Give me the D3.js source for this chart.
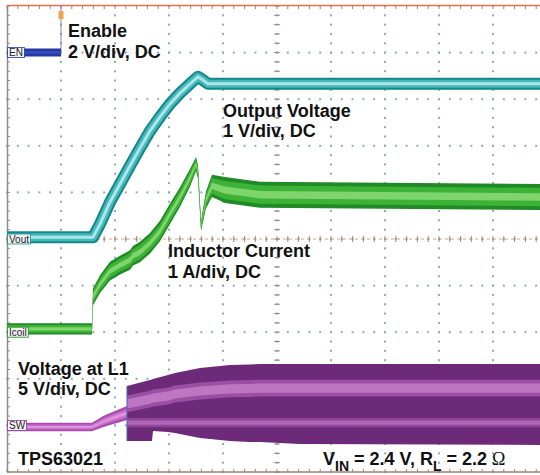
<!DOCTYPE html>
<html><head><meta charset="utf-8">
<script src="https://cdn.jsdelivr.net/npm/d3@7"></script>
<style>html,body{margin:0;padding:0;background:#fff;}svg{display:block}</style>
</head><body>
<svg id="c" width="540" height="475"></svg>
<script>
// ---------- data (time in divisions, values in channel units) ----------
const majorX = d3.range(0, 11);          // time divisions
const majorY = d3.range(-5, 6);          // vertical divisions
const minorStep = 0.2;

// Enable (2 V/div, ref +4 div)
const enTime = [0, 1.0, 1.0];
const enVolt = [0, 0, 3.6];

// Output voltage (1 V/div, ref 0 div)
const voutTime = [0, 1.593, 1.722, 1.907, 2.093, 2.278, 2.463, 2.648, 2.833, 3.019, 3.204, 3.389, 3.537, 3.630, 3.722, 10];
const voutVolt = [0.04, 0.04, 0.32, 0.79, 1.18, 1.57, 1.95, 2.32, 2.62, 2.90, 3.13, 3.33, 3.48, 3.41, 3.33, 3.33];

// Inductor current (1 A/div, ref -2 div)
const coilTime = [0, 1.574, 1.593, 1.722, 1.907, 2.093, 2.278, 2.333, 2.463, 2.648, 2.833, 3.019, 3.204, 3.389, 3.500, 3.537, 3.593, 3.685, 3.796, 4.037, 4.685, 10];
const coilAmp  = [0.07, 0.07, 0.76, 1.03, 1.31, 1.44, 1.55, 1.64, 1.72, 1.91, 2.17, 2.54, 2.90, 3.31, 3.61, 3.44, 2.28, 2.84, 3.14, 3.05, 2.95, 2.90];
const coilHalf = [0.12, 0.12, 0.18, 0.19, 0.20, 0.20, 0.21, 0.21, 0.22, 0.22, 0.22, 0.22, 0.21, 0.19, 0.15, 0.14, 0.11, 0.18, 0.24, 0.28, 0.28, 0.28];

// Voltage at L1 (5 V/div, ref -4 div)
const swPreTime = [0, 1.574, 1.800, 2.222];
const swPreVolt = [-0.17, -0.17, 0.45, 1.33];
const swPreHalf = [0.45, 0.45, 0.60, 0.75];
const swTime   = [2.222, 2.648, 2.685, 2.704, 2.981, 3.111, 3.574, 4.130, 4.500, 4.685, 5.426, 10];
const swTop    = [4.23, 4.87, 4.93, 4.98, 5.41, 5.62, 6.16, 6.48, 6.54, 6.59, 6.59, 6.59];
const swBottom = [-1.67, -1.67, -1.67, -0.60, -0.71, -0.82, -1.35, -1.67, -1.78, -1.78, -2.00, -2.10];
const swHigh   = [2.30, 2.83, 2.89, 2.94, 3.15, 3.37, 3.69, 3.91, 3.96, 4.01, 4.01, 4.01];
const swLow    = [0.30, 0.30, 0.30, 0.30, 0.30, 0.30, 0.30, 0.30, 0.30, 0.30, 0.30, 0.30];

// ---------- scales ----------
const svg = d3.select("#c");
const x = d3.scaleLinear().domain([0, 10]).range([7, 547]);
const yd = d3.scaleLinear().domain([-5, 5]).range([472, 6]);
const ch = (ref, perDiv) => v => yd(ref + v / perDiv);
const yEN = ch(4, 2), yVout = ch(0, 1), yCoil = ch(-2, 1), ySW = ch(-4, 5);

svg.append("defs").append("clipPath").attr("id", "plot")
  .append("rect").attr("x", 7).attr("y", 6).attr("width", 540).attr("height", 466);

// ---------- graticule ----------
const grid = svg.append("g").attr("fill", "#98a8bc");
const minors = n => d3.range(Math.round(n / minorStep) + 1).map(i => i * minorStep);
majorX.filter(d => d > 0 && d < 10).forEach(gx => {
  minors(10).forEach(m => grid.append("rect").attr("x", x(gx) - 1).attr("y", yd(-5 + m) - 1).attr("width", 2).attr("height", 2));
});
majorY.filter(d => d > -5 && d < 5).forEach(gy => {
  minors(10).forEach(m => grid.append("rect").attr("x", x(m) - 1).attr("y", yd(gy) - 1).attr("width", 2).attr("height", 2));
});
// center axes
svg.append("line").attr("x1", x(0)).attr("x2", 540).attr("y1", yd(0)).attr("y2", yd(0))
  .attr("stroke", "#d9a088").attr("stroke-dasharray", "3,3").attr("stroke-width", 1);
const ax = svg.append("g").attr("stroke", "#9a8a80").attr("stroke-width", 1);
minors(10).forEach(m => {
  ax.append("line").attr("x1", x(m)).attr("x2", x(m)).attr("y1", yd(0) - 3).attr("y2", yd(0) + 3);
  ax.append("line").attr("x1", x(5) - 3).attr("x2", x(5) + 3).attr("y1", yd(-5 + m)).attr("y2", yd(-5 + m));
  // frame ticks
  ax.append("line").attr("x1", x(m)).attr("x2", x(m)).attr("y1", yd(-5)).attr("y2", yd(-5) - 3);
  ax.append("line").attr("x1", x(m)).attr("x2", x(m)).attr("y1", yd(5)).attr("y2", yd(5) + 3);
  ax.append("line").attr("x1", x(0)).attr("x2", x(0) + 3).attr("y1", yd(-5 + m)).attr("y2", yd(-5 + m));
});
// frame
svg.append("line").attr("x1", 7.5).attr("x2", 7.5).attr("y1", 5).attr("y2", 472).attr("stroke", "#8c8c8c").attr("stroke-width", 1.5);
svg.append("line").attr("x1", 7).attr("x2", 540).attr("y1", 5.5).attr("y2", 5.5).attr("stroke", "#e2704c").attr("stroke-width", 1.5);
svg.append("line").attr("x1", 7).attr("x2", 540).attr("y1", 472).attr("y2", 472).attr("stroke", "#a08070").attr("stroke-width", 1.5);

const plot = svg.append("g").attr("clip-path", "url(#plot)");
const idx = n => d3.range(n);

function bandLayer(t, c, h, k, yf, color) {
  const a = d3.area().x(i => x(t[i])).y0(i => yf(c[i] - h[i] * k)).y1(i => yf(c[i] + h[i] * k));
  plot.append("path").attr("d", a(idx(t.length))).attr("fill", color);
}
function rangeLayer(t, lo, hi, yf, color) {
  const a = d3.area().x(i => x(t[i])).y0(i => yf(lo[i])).y1(i => yf(hi[i]));
  plot.append("path").attr("d", a(idx(t.length))).attr("fill", color);
}

// ---------- SW (Voltage at L1) ----------
rangeLayer(swTime, swBottom, swTop, ySW, "#6c2a78");
const swHighHalf = swTime.map(() => 0.9), swLowHalf = swTime.map(() => 0.5);
bandLayer(swTime, swHigh, swHighHalf, 1.0, ySW, "#9a4ea4");
bandLayer(swTime, swHigh, swHighHalf, 0.55, ySW, "#be76c2");
bandLayer(swTime, swLow, swLowHalf, 1.0, ySW, "#8e4498");
bandLayer(swTime, swLow, swLowHalf, 0.45, ySW, "#b068b6");
bandLayer(swPreTime, swPreVolt, swPreHalf, 1.0, ySW, "#a44ea8");
bandLayer(swPreTime, swPreVolt, swPreHalf, 0.6, ySW, "#cc6cce");
bandLayer(swPreTime, swPreVolt, swPreHalf, 0.25, ySW, "#dc94dc");
plot.append("line").attr("x1", x(swTime[0])).attr("x2", x(swTime[0]))
  .attr("y1", ySW(swTop[0])).attr("y2", ySW(swBottom[0])).attr("stroke", "#4a6ab0").attr("stroke-width", 1);

// ---------- Inductor current ----------
bandLayer(coilTime, coilAmp, coilHalf, 1.0, yCoil, "#1f8a26");
bandLayer(coilTime, coilAmp, coilHalf, 0.7, yCoil, "#3cb236");
bandLayer(coilTime, coilAmp, coilHalf, 0.28, yCoil, "#7fd46c");

// ---------- Output voltage ----------
const vLine = d3.line().x(i => x(voutTime[i])).y(i => yVout(voutVolt[i]));
[[12, "#15878a"], [8, "#45b8bc"], [3, "#aee6e6"]].forEach(([w, c]) =>
  plot.append("path").attr("d", vLine(idx(voutTime.length))).attr("fill", "none")
    .attr("stroke", c).attr("stroke-width", w).attr("stroke-linejoin", "round"));

// ---------- Enable ----------
const eLine = d3.line().x(i => x(enTime[i])).y(i => yEN(enVolt[i]));
plot.append("path").attr("d", eLine(idx(enTime.length))).attr("fill", "none").attr("stroke", "#7a88b0").attr("stroke-width", 1);
plot.append("path").attr("d", eLine([0, 1])).attr("fill", "none").attr("stroke", "#2438a6").attr("stroke-width", 8);
plot.append("path").attr("d", eLine([0, 1])).attr("fill", "none").attr("stroke", "#3a50c0").attr("stroke-width", 2);
// trigger marker
svg.append("rect").attr("x", x(1) - 2.5).attr("y", 11).attr("width", 5).attr("height", 8).attr("fill", "#f0a448");

// ---------- channel labels ----------
const chLabels = [
  {t: "EN", y: yEN(0), c: "#2438a6"},
  {t: "Vout", y: yVout(0), c: "#15878a"},
  {t: "Icoil", y: yCoil(0), c: "#1f8a26"},
  {t: "SW", y: ySW(0), c: "#8a3a94"}
];
chLabels.forEach(d => {
  const g = svg.append("g");
  const tx = g.append("text").attr("x", 9).attr("y", d.y + 3.5).text(d.t)
    .attr("font-family", "Liberation Sans, Arial, sans-serif").attr("font-size", 10).attr("fill", "#222");
  const w = tx.node().getComputedTextLength();
  g.insert("rect", "text").attr("x", 7.5).attr("y", d.y - 5).attr("width", w + 3).attr("height", 10)
    .attr("fill", "#f4f4f4").attr("stroke", d.c).attr("stroke-width", 0.8);
});

// ---------- annotations ----------
const notes = [
  ["Enable", 68, 37], ["2 V/div, DC", 68, 58],
  ["Output Voltage", 223, 117], ["1 V/div, DC", 223, 137],
  ["Inductor Current", 168, 257], ["1 A/div, DC", 168, 278],
  ["Voltage at L1", 18, 375], ["5 V/div, DC", 18, 395],
  ["TPS63021", 18, 465]
];
notes.forEach(([s, xx, yy]) => svg.append("text").attr("x", xx).attr("y", yy).text(s)
  .attr("font-family", "Liberation Sans, Arial, sans-serif").attr("font-weight", "bold")
  .attr("font-size", 18).attr("fill", "#111"));

const cond = svg.append("text").attr("x", 323).attr("y", 465)
  .attr("font-family", "Liberation Sans, Arial, sans-serif").attr("font-weight", "bold")
  .attr("font-size", 18).attr("fill", "#111");
cond.append("tspan").text("V");
cond.append("tspan").text("IN").attr("font-size", 14).attr("dy", 6);
cond.append("tspan").text(" = 2.4 V, R").attr("dy", -6);
cond.append("tspan").text("L").attr("font-size", 14).attr("dy", 6);
cond.append("tspan").text(" = 2.2 ").attr("dy", -6);
cond.append("tspan").text("Ω").attr("font-family", "Liberation Serif, Times New Roman, serif").attr("font-weight", "normal");
</script>
</body></html>
